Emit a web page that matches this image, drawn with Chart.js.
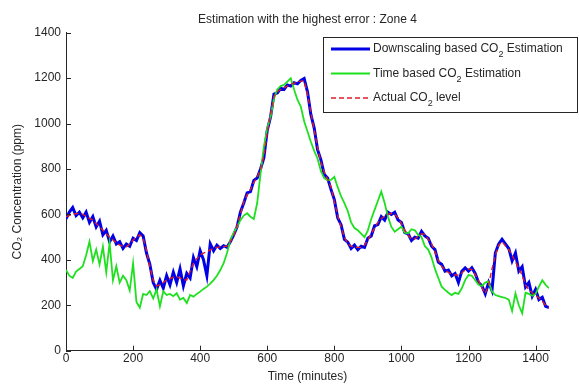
<!DOCTYPE html>
<html>
<head>
<meta charset="utf-8">
<script src="https://cdn.jsdelivr.net/npm/chart.js@4.4.1/dist/chart.umd.min.js"></script>
<style>
  html, body { margin: 0; padding: 0; background: #fff; }
  #wrap { width: 579px; height: 388px; }
</style>
</head>
<body>
<div id="wrap"><canvas id="co2-chart"></canvas></div>
<script>
// Sampling step of the series below (minutes).
const STEP = 10;
const xTicks = [0, 200, 400, 600, 800, 1000, 1200, 1400];
const yTicks = [0, 200, 400, 600, 800, 1000, 1200, 1400];

// Actual CO2 level (ppm), one value every 10 minutes from 0 to 1440.
const actual = [
  590, 595, 600, 603, 605, 600, 592, 583, 575, 560,
  545, 531, 515, 500, 487, 475, 465, 460, 458, 470,
  487, 500, 510, 495, 440, 370, 311, 285, 290, 300,
  311, 318, 323, 326, 320, 312, 311, 350, 385, 405,
  421, 430, 436, 444, 451, 455, 457, 458, 460, 480,
  505, 550, 600, 655, 685, 710, 740, 765, 795, 860,
  960, 1040, 1120, 1140, 1150, 1157, 1165, 1172, 1178, 1183,
  1187, 1188, 1130, 1050, 970, 895, 830, 785, 755, 720,
  655, 595, 545, 500, 470, 460, 456, 455, 455, 465,
  487, 515, 540, 565, 582, 592, 600, 605, 600, 585,
  560, 530, 508, 492, 492, 505, 515, 512, 490, 470,
  435, 398, 372, 355, 345, 338, 333, 333, 342, 355,
  360, 357, 335, 308, 278, 252, 290, 360, 420, 465,
  480, 462, 445, 420, 392, 362, 332, 290, 268, 255,
  245, 232, 218, 200, 190
];

// Downscaling based estimation (ppm).
const downscaled = [
  580, 610, 630, 595, 610, 585, 610, 565, 590, 545,
  570, 510, 530, 480, 505, 470, 480, 450, 470, 460,
  495, 485, 520, 505, 430, 380, 300, 270, 310, 275,
  330, 290, 345, 300, 360, 285, 340, 320, 410, 370,
  440, 400, 330, 470, 440, 465, 450, 462, 455, 480,
  510, 545, 610, 650, 695, 700, 750, 760, 800, 850,
  970, 1030, 1130, 1135, 1155, 1150, 1170, 1165, 1180, 1175,
  1190, 1198, 1140, 1040, 980, 885, 840, 775, 760, 710,
  665, 585, 555, 490, 478, 450, 465, 445, 460, 455,
  495, 505, 550, 555, 590, 575, 610, 600, 610, 575,
  565, 520, 515, 485, 500, 495, 525, 505, 495, 460,
  445, 390, 380, 350, 355, 330, 340, 300, 350, 365,
  350, 365, 340, 300, 285, 250, 300, 265, 430, 470,
  490, 470, 450, 395, 430, 350, 370, 280, 300, 240,
  270, 225, 235, 195, 190
];

// Time based estimation (ppm).
const timeBased = [
  355, 330, 320, 348, 360, 372, 420, 480, 395, 445,
  380, 458, 345, 475, 310, 372, 300, 330, 310, 265,
  385, 215, 190, 250, 245, 262, 230, 270, 195, 262,
  245, 250, 240, 253, 225, 232, 210, 245, 238, 250,
  260, 272, 282, 295, 311, 330, 355, 385, 430, 487,
  520, 545, 575, 595, 605, 590, 580, 650, 780, 900,
  980, 1030, 1110, 1150, 1165, 1170, 1185, 1200, 1150, 1105,
  1075, 1010, 965, 920, 880, 845, 790, 760, 750, 752,
  765, 720, 680, 650, 615, 565, 540, 530, 515, 500,
  530, 580, 620, 660, 700, 650, 590, 545, 524, 535,
  546, 520, 517, 535, 530, 510, 500, 460, 445, 410,
  360, 320, 282, 268, 255, 245, 255, 250, 275, 311,
  333, 330, 310, 290, 285, 300, 305, 260, 245, 240,
  236, 232, 225, 175, 252, 200, 165, 255, 250, 242,
  250, 282, 310, 290, 275
];

const toPoints = arr => arr.map((v, i) => ({ x: i * STEP, y: v }));

const FONT = "'Liberation Sans', Arial, sans-serif";
const INK = '#262626';
const TITLE = 'Estimation with the highest error : Zone 4';

// Title centred over the axes, plus MATLAB-style inward tick marks.
const axesDecor = {
  id: 'axesDecor',
  afterDraw(chart) {
    const ctx = chart.ctx;
    const a = chart.chartArea;
    const sx = chart.scales.x, sy = chart.scales.y;
    ctx.save();
    ctx.fillStyle = INK;
    ctx.font = '12px ' + FONT;
    ctx.textAlign = 'center';
    ctx.textBaseline = 'middle';
    ctx.fillText(TITLE, (a.left + a.right) / 2, 20);

    ctx.strokeStyle = INK;
    ctx.lineWidth = 1;
    ctx.beginPath();
    xTicks.forEach(v => {
      const px = Math.round(sx.getPixelForValue(v)) + 0.5;
      ctx.moveTo(px, a.bottom);
      ctx.lineTo(px, a.bottom - 5);
    });
    yTicks.forEach(v => {
      const py = Math.round(sy.getPixelForValue(v)) + 0.5;
      ctx.moveTo(a.left, py);
      ctx.lineTo(a.left + 5, py);
    });
    ctx.stroke();
    ctx.restore();
  }
};

// MATLAB-like legend box inside the axes, with lowered subscript "2".
const legendBox = {
  id: 'legendBox',
  afterDraw(chart) {
    const ctx = chart.ctx;
    const box = { x: 323.5, y: 37.5, w: 254, h: 75 };
    const rows = [
      { ds: 0, pre: 'Downscaling based CO', post: ' Estimation' },
      { ds: 1, pre: 'Time based CO', post: ' Estimation' },
      { ds: 2, pre: 'Actual CO', post: ' level' }
    ];
    ctx.save();
    ctx.fillStyle = '#fff';
    ctx.fillRect(box.x, box.y, box.w, box.h);
    ctx.strokeStyle = INK;
    ctx.lineWidth = 1;
    ctx.strokeRect(box.x, box.y, box.w, box.h);
    rows.forEach((r, i) => {
      const ds = chart.data.datasets[r.ds];
      const cy = 49 + i * 24.5;
      ctx.beginPath();
      ctx.strokeStyle = ds.borderColor;
      ctx.lineWidth = ds.borderWidth;
      ctx.setLineDash(ds.borderDash || []);
      ctx.moveTo(331, cy);
      ctx.lineTo(370, cy);
      ctx.stroke();
      ctx.setLineDash([]);
      ctx.fillStyle = INK;
      ctx.textBaseline = 'middle';
      ctx.font = '12px ' + FONT;
      ctx.fillText(r.pre, 373, cy);
      let x = 373 + ctx.measureText(r.pre).width;
      ctx.font = '9px ' + FONT;
      ctx.fillText('2', x, cy + 6);
      x += ctx.measureText('2').width;
      ctx.font = '12px ' + FONT;
      ctx.fillText(r.post, x, cy);
    });
    ctx.restore();
  }
};

new Chart(document.getElementById('co2-chart'), {
  type: 'line',
  data: {
    datasets: [{
      label: 'Downscaling based CO2 Estimation',
      data: toPoints(downscaled),
      borderColor: '#0000e6',
      borderWidth: 3,
      order: 2
    }, {
      label: 'Time based CO2 Estimation',
      data: toPoints(timeBased),
      borderColor: '#1fe01f',
      borderWidth: 1.8,
      order: 1
    }, {
      label: 'Actual CO2 level',
      data: toPoints(actual),
      borderColor: '#dc1e28',
      borderWidth: 1.4,
      borderDash: [5, 3],
      order: 0
    }]
  },
  options: {
    responsive: true,
    maintainAspectRatio: false,
    animation: false,
    elements: { point: { radius: 0 }, line: { tension: 0 } },
    layout: { padding: { left: 0, right: 30, top: 32.7, bottom: 0 } },
    plugins: {
      legend: { display: false },
      tooltip: { enabled: false },
      title: { display: false }
    },
    scales: {
      x: {
        type: 'linear',
        min: 0,
        max: 1440,
        afterBuildTicks: s => { s.ticks = xTicks.map(v => ({ value: v })); },
        afterFit: s => { s.height = 37.3; },
        border: { display: true, color: INK, width: 1 },
        grid: { drawOnChartArea: false, drawTicks: false },
        ticks: {
          color: INK, padding: 1, maxRotation: 0,
          font: { family: FONT, size: 12 },
          callback: v => String(v)
        },
        title: {
          display: true,
          text: 'Time (minutes)',
          color: INK,
          font: { family: FONT, size: 12 },
          padding: { top: 0, bottom: 4 }
        }
      },
      y: {
        min: 0,
        max: 1400,
        afterBuildTicks: s => { s.ticks = yTicks.map(v => ({ value: v })); },
        afterFit: s => { s.width = 66; },
        border: { display: true, color: INK, width: 1 },
        grid: { drawOnChartArea: false, drawTicks: false },
        ticks: {
          color: INK, padding: 5,
          font: { family: FONT, size: 12 },
          callback: v => String(v)
        },
        title: {
          display: true,
          text: 'CO\u2082 Concentration (ppm)',
          color: INK,
          font: { family: FONT, size: 12 },
          padding: { top: 10, bottom: 0 }
        }
      }
    }
  },
  plugins: [axesDecor, legendBox]
});
</script>
</body>
</html>
